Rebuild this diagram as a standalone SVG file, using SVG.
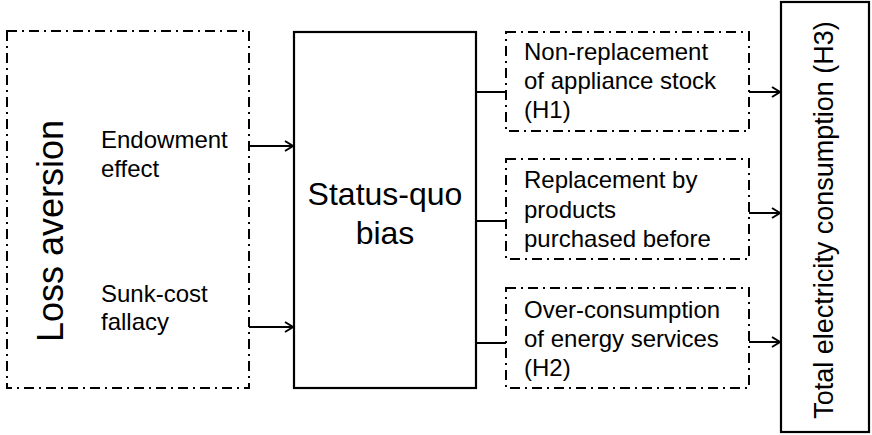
<svg xmlns="http://www.w3.org/2000/svg" width="872" height="435" viewBox="0 0 872 435">
<style>
  .dash { fill: #fff; stroke: #000; stroke-width: 2; stroke-dasharray: 10 5 2 5; }
  .solid { fill: #fff; stroke: #000; stroke-width: 2.2; }
  .t { font-family: "Liberation Sans", Arial, sans-serif; fill: #000; }
  .s24 { font-size: 24px; }
  .s32 { font-size: 32px; }
  .conn { stroke: #000; stroke-width: 2; fill: none; }
</style>
<defs>
  <marker id="arr" markerUnits="userSpaceOnUse" markerWidth="14" markerHeight="14" refX="11" refY="7" orient="auto">
    <path d="M3,2 L11,7 L3,12" fill="none" stroke="#000" stroke-width="2"/>
  </marker>
</defs>
<rect width="872" height="435" fill="#fff"/>
<g id="loss-aversion">
  <rect class="dash" x="7" y="31" width="242" height="357"/>
  <text class="t" font-size="36" text-anchor="middle" transform="translate(63,231) rotate(-90)">Loss aversion</text>
  <text class="t s24" x="101" y="148">Endowment</text>
  <text class="t s24" x="101" y="177">effect</text>
  <text class="t s24" x="101" y="302">Sunk-cost</text>
  <text class="t s24" x="101" y="330">fallacy</text>
</g>
<g id="status-quo">
  <rect class="solid" x="294" y="32" width="182" height="356"/>
  <text class="t s32" x="385" y="205" text-anchor="middle">Status-quo</text>
  <text class="t s32" x="385" y="244" text-anchor="middle">bias</text>
</g>
<g id="h1">
  <rect class="dash" x="506" y="32" width="243" height="99"/>
  <text class="t s24" x="524" y="60">Non-replacement</text>
  <text class="t s24" x="524" y="89">of appliance stock</text>
  <text class="t s24" x="524" y="118">(H1)</text>
</g>
<g id="replacement">
  <rect class="dash" x="506" y="159" width="243" height="100"/>
  <text class="t s24" x="524" y="188">Replacement by</text>
  <text class="t s24" x="524" y="218">products</text>
  <text class="t s24" x="524" y="247">purchased before</text>
</g>
<g id="h2">
  <rect class="dash" x="506" y="288" width="243" height="100"/>
  <text class="t s24" x="524" y="318">Over-consumption</text>
  <text class="t s24" x="524" y="347">of energy services</text>
  <text class="t s24" x="524" y="376">(H2)</text>
</g>
<g id="total">
  <rect class="solid" x="781" y="2" width="88" height="430"/>
  <text class="t" font-size="27" text-anchor="middle" transform="translate(833,220) rotate(-90)">Total electricity consumption (H3)</text>
</g>
<g id="connectors">
  <line class="conn" x1="249" y1="146" x2="293" y2="146" marker-end="url(#arr)"/>
  <line class="conn" x1="249" y1="327" x2="293" y2="327" marker-end="url(#arr)"/>
  <line class="conn" x1="477" y1="92" x2="506" y2="92"/>
  <line class="conn" x1="477" y1="221" x2="506" y2="221"/>
  <line class="conn" x1="477" y1="343" x2="506" y2="343"/>
  <line class="conn" x1="749" y1="92" x2="780" y2="92" marker-end="url(#arr)"/>
  <line class="conn" x1="749" y1="213" x2="780" y2="213" marker-end="url(#arr)"/>
  <line class="conn" x1="749" y1="342" x2="780" y2="342" marker-end="url(#arr)"/>
</g>
</svg>
